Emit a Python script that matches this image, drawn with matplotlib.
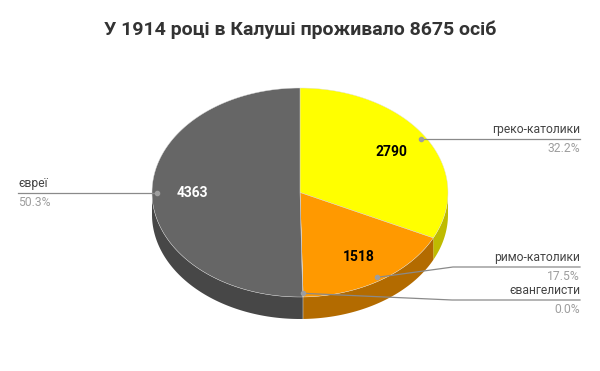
import numpy as np
import matplotlib.pyplot as plt
from matplotlib.patches import Polygon

plt.rcParams['font.family'] = ['Roboto', 'DejaVu Sans']

title = 'У 1914 році в Калуші проживало 8675 осіб'
categories = ['греко-католики', 'римо-католики', 'євангелисти', 'євреї']
values = [2790, 1518, 4, 4363]
top_colors = ['#ffff00', '#ff9900', '#cccccc', '#666666']
side_colors = ['#bfbb00', '#b36b00', '#999999', '#474747']
value_colors = ['black', 'black', 'black', 'white']

# pie geometry in pixels
cx, cy = 300, 192.5
rx, ry = 148, 104.5
depth = 22


def pt(ang, k=1.0, dy=0):
    a = np.radians(ang)
    return cx + k * rx * np.sin(a), cy - k * ry * np.cos(a) + dy


def arc(a0, a1, dy=0):
    n = max(2, int(abs(a1 - a0)) + 2)
    t = np.linspace(a0, a1, n)
    return [pt(a, 1.0, dy) for a in t]


total = sum(values)
angles = np.concatenate([[0], np.cumsum(values) / total * 360])

fig = plt.figure(figsize=(6, 3.71), dpi=100)
ax = fig.add_axes([0, 0, 1, 1])
ax.set_xlim(0, 600)
ax.set_ylim(371, 0)
ax.axis('off')

# side walls (front half only)
for i in range(len(values)):
    a0 = max(angles[i], 90)
    a1 = min(angles[i + 1], 270)
    if a1 <= a0:
        continue
    top = arc(a0, a1)
    bot = arc(a1, a0, depth)
    ax.add_patch(Polygon(top + bot, closed=True, facecolor=side_colors[i],
                         edgecolor='none'))

# top surface
for i in range(len(values)):
    pts = [(cx, cy)] + arc(angles[i], angles[i + 1])
    ax.add_patch(Polygon(pts, closed=True, facecolor=top_colors[i],
                         edgecolor='#dddddd', linewidth=0.3))

# value labels
for i in range(len(values)):
    if values[i] / total < 0.05:
        continue
    mid = (angles[i] + angles[i + 1]) / 2
    x, y = pt(mid, 0.73)
    ax.text(x, y, str(values[i]), ha='center', va='center', fontsize=10,
            fontweight='bold', color=value_colors[i])

# leader lines and category labels
line_col = '#8a8a8a'
elbows = {0: None, 1: (453, 267), 2: (452, 300), 3: None}
for i in range(len(values)):
    mid = (angles[i] + angles[i + 1]) / 2
    dx, dyy = pt(mid, 0.965)
    pct = values[i] / total * 100
    if i == 3:
        ex, ey = 18, dyy
        ax.plot([dx, ex], [dyy, ey], color=line_col, lw=0.9)
        ax.text(ex, ey - 3, categories[i], ha='left', va='bottom', fontsize=8.7,
                color='#444444')
        ax.text(ex, ey + 3, '%.1f%%' % pct, ha='left', va='top', fontsize=8.7,
                color='#9e9e9e')
    else:
        e = elbows[i] if elbows[i] is not None else (dx + 30, dyy)
        ex, ey = 580, e[1]
        ax.plot([dx, e[0], ex], [dyy, e[1], ey], color=line_col, lw=0.9)
        ax.text(ex, ey - 3, categories[i], ha='right', va='bottom', fontsize=8.7,
                color='#444444')
        ax.text(ex, ey + 3, '%.1f%%' % pct, ha='right', va='top', fontsize=8.7,
                color='#9e9e9e')
    ax.plot(dx, dyy, 'o', color='#9e9e9e', markersize=3)

ax.text(300, 30, title, ha='center', va='center', fontsize=14,
        fontweight='bold', color='#333333')

fig.savefig('out.png', dpi=100)
